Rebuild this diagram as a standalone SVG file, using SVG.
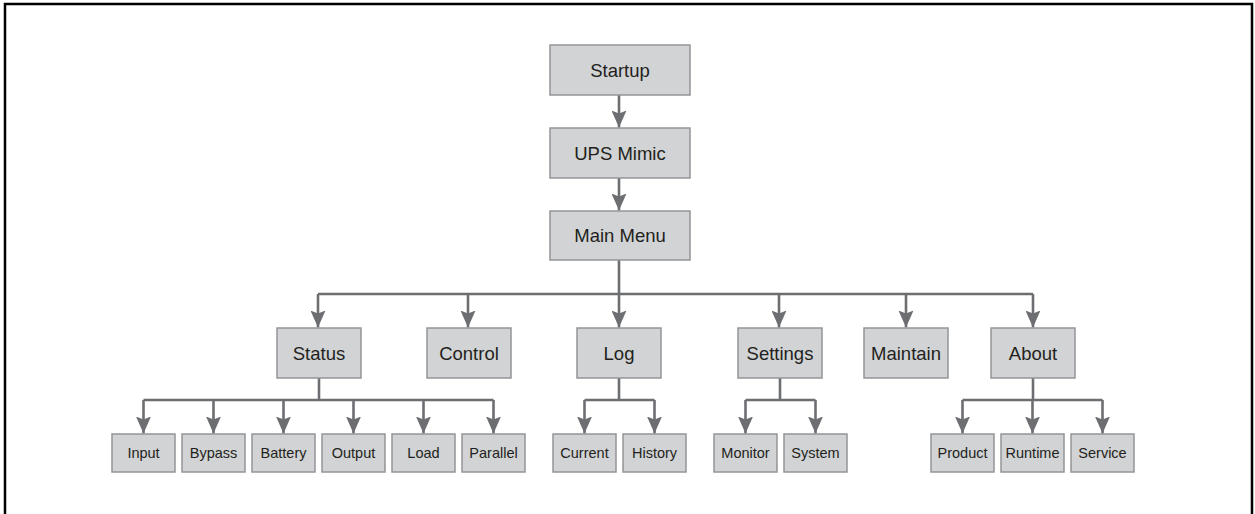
<svg xmlns="http://www.w3.org/2000/svg" width="1255" height="514" viewBox="0 0 1255 514">
<style>
.b{fill:#d1d3d4;stroke:#939598;stroke-width:1.5}
.t{font-family:"Liberation Sans",Arial,sans-serif;font-size:18.5px;fill:#231f20;text-anchor:middle}
.s{font-family:"Liberation Sans",Arial,sans-serif;font-size:14.5px;fill:#231f20;text-anchor:middle}
.c{fill:none;stroke:#6d6e71;stroke-width:2.6}
</style>
<defs>
<marker id="ah" markerUnits="userSpaceOnUse" viewBox="0 0 17 15" refX="17" refY="7.5" markerWidth="17" markerHeight="15" orient="auto">
<path d="M0,0 L17,7.5 L0,15 L3,7.5 Z" fill="#6d6e71"/>
</marker>
</defs>
<rect x="0" y="0" width="1255" height="514" fill="#fff"/>
<path d="M5,514 V4 H1252 V514" fill="none" stroke="#000" stroke-width="2.5"/>
<g id="connectors">
<path class="c" d="M619,95 V127.5" marker-end="url(#ah)"/>
<path class="c" d="M619,178 V210.5" marker-end="url(#ah)"/>
<path class="c" d="M619,260 V294"/>
<path class="c" d="M318,294 H1033"/>
<path class="c" d="M318,294 V327.5" marker-end="url(#ah)"/>
<path class="c" d="M468,294 V327.5" marker-end="url(#ah)"/>
<path class="c" d="M619,294 V327.5" marker-end="url(#ah)"/>
<path class="c" d="M779,294 V327.5" marker-end="url(#ah)"/>
<path class="c" d="M906,294 V327.5" marker-end="url(#ah)"/>
<path class="c" d="M1033,294 V327.5" marker-end="url(#ah)"/>
<path class="c" d="M319,378 V400"/>
<path class="c" d="M143.5,400 H493.5"/>
<path class="c" d="M143.5,400 V433.5" marker-end="url(#ah)"/>
<path class="c" d="M213.5,400 V433.5" marker-end="url(#ah)"/>
<path class="c" d="M283.5,400 V433.5" marker-end="url(#ah)"/>
<path class="c" d="M353.5,400 V433.5" marker-end="url(#ah)"/>
<path class="c" d="M423.5,400 V433.5" marker-end="url(#ah)"/>
<path class="c" d="M493.5,400 V433.5" marker-end="url(#ah)"/>
<path class="c" d="M619,378 V400"/>
<path class="c" d="M584.5,400 H654.5"/>
<path class="c" d="M584.5,400 V433.5" marker-end="url(#ah)"/>
<path class="c" d="M654.5,400 V433.5" marker-end="url(#ah)"/>
<path class="c" d="M780,378 V400"/>
<path class="c" d="M745.5,400 H815.5"/>
<path class="c" d="M745.5,400 V433.5" marker-end="url(#ah)"/>
<path class="c" d="M815.5,400 V433.5" marker-end="url(#ah)"/>
<path class="c" d="M1033,378 V400"/>
<path class="c" d="M962.5,400 H1102.5"/>
<path class="c" d="M962.5,400 V433.5" marker-end="url(#ah)"/>
<path class="c" d="M1032.5,400 V433.5" marker-end="url(#ah)"/>
<path class="c" d="M1102.5,400 V433.5" marker-end="url(#ah)"/>
</g>
<g id="startup"><rect class="b" x="550" y="45" width="140" height="50"/><text class="t" x="620" y="76.5">Startup</text></g>
<g id="ups-mimic"><rect class="b" x="550" y="128" width="140" height="50"/><text class="t" x="620" y="159.5">UPS Mimic</text></g>
<g id="main-menu"><rect class="b" x="550" y="211" width="140" height="49"/><text class="t" x="620" y="242">Main Menu</text></g>
<g id="status"><rect class="b" x="277" y="328" width="84" height="50"/><text class="t" x="319" y="359.5">Status</text></g>
<g id="control"><rect class="b" x="427" y="328" width="84" height="50"/><text class="t" x="469" y="359.5">Control</text></g>
<g id="log"><rect class="b" x="577" y="328" width="84" height="50"/><text class="t" x="619" y="359.5">Log</text></g>
<g id="settings"><rect class="b" x="738" y="328" width="84" height="50"/><text class="t" x="780" y="359.5">Settings</text></g>
<g id="maintain"><rect class="b" x="864" y="328" width="84" height="50"/><text class="t" x="906" y="359.5">Maintain</text></g>
<g id="about"><rect class="b" x="991" y="328" width="84" height="50"/><text class="t" x="1033" y="359.5">About</text></g>
<g id="input"><rect class="b" x="112" y="434" width="63" height="38"/><text class="s" x="143.5" y="458">Input</text></g>
<g id="bypass"><rect class="b" x="182" y="434" width="63" height="38"/><text class="s" x="213.5" y="458">Bypass</text></g>
<g id="battery"><rect class="b" x="252" y="434" width="63" height="38"/><text class="s" x="283.5" y="458">Battery</text></g>
<g id="output"><rect class="b" x="322" y="434" width="63" height="38"/><text class="s" x="353.5" y="458">Output</text></g>
<g id="load"><rect class="b" x="392" y="434" width="63" height="38"/><text class="s" x="423.5" y="458">Load</text></g>
<g id="parallel"><rect class="b" x="462" y="434" width="63" height="38"/><text class="s" x="493.5" y="458">Parallel</text></g>
<g id="current"><rect class="b" x="553" y="434" width="63" height="38"/><text class="s" x="584.5" y="458">Current</text></g>
<g id="history"><rect class="b" x="623" y="434" width="63" height="38"/><text class="s" x="654.5" y="458">History</text></g>
<g id="monitor"><rect class="b" x="714" y="434" width="63" height="38"/><text class="s" x="745.5" y="458">Monitor</text></g>
<g id="system"><rect class="b" x="784" y="434" width="63" height="38"/><text class="s" x="815.5" y="458">System</text></g>
<g id="product"><rect class="b" x="931" y="434" width="63" height="38"/><text class="s" x="962.5" y="458">Product</text></g>
<g id="runtime"><rect class="b" x="1001" y="434" width="63" height="38"/><text class="s" x="1032.5" y="458">Runtime</text></g>
<g id="service"><rect class="b" x="1071" y="434" width="63" height="38"/><text class="s" x="1102.5" y="458">Service</text></g>
</svg>
